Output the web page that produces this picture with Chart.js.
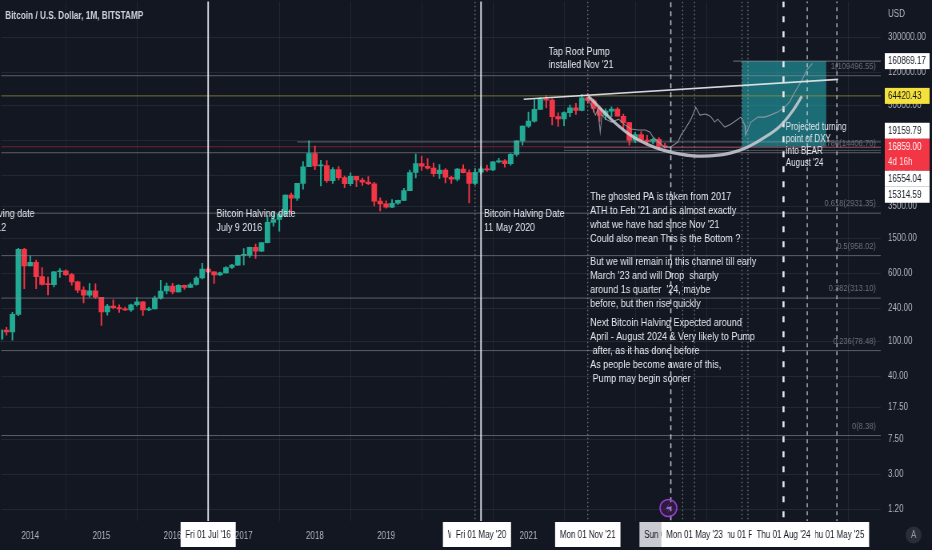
<!DOCTYPE html>
<html><head><meta charset="utf-8">
<script src="https://cdn.jsdelivr.net/npm/chart.js@4"></script>
<style>
html,body{margin:0;padding:0;background:#131722;overflow:hidden;width:932px;height:550px}
#wrap{position:absolute;left:0;top:0;width:1165px;height:550px;transform:scaleX(0.8);transform-origin:0 0}
</style></head><body>
<div id="wrap"><canvas id="c"></canvas></div>
<script>
// ---------- DATA ----------
const firstCandleMonth = -5; // Aug 2013, months counted from Jan 2014
const opens = [
 106,135,128,204,1130,
 732,802,550,450,446,627,640,580,480,386,338,378,
 320,218,254,244,236,230,263,284,230,236,313,377,
 430,368,437,416,448,531,673,624,575,609,700,745,
 965,968,1190,1080,1348,2300,2480,2870,4730,4340,6440,9950,
 14100,10200,10300,6920,9240,7490,6390,7730,7020,6630,6370,4020,
 3740,3440,3810,4100,5320,8560,10820,10080,9600,8290,9150,7560,
 7190,9360,8540,6420,8620,9450,9140,11340,11650,10780,13800,19700,
 28990,33110,45150,58760,57700,37300,35040,41460,47100,43820,61300,56900,
 46200,38470,43160,45520,37640,31790,19940,23300,20050,19430,20490,17170];
const highs = [
 140,145,215,1163,1163,
 950,850,700,545,635,680,660,600,490,420,460,455,
 320,265,300,262,247,268,318,285,245,330,500,465,
 462,448,440,467,550,780,700,630,620,720,760,970,
 1150,1200,1300,1350,2760,3000,2950,4760,4980,6450,11400,19660,
 17200,11800,11700,9750,9990,7770,8490,7750,7400,7690,6600,4380,
 4070,4200,4140,5640,9100,13880,13200,12320,10940,10540,9520,7740,
 9580,10500,9190,9460,10070,10380,11450,12470,12060,14100,19880,29300,
 41950,58350,61780,64900,59600,41300,42300,50500,52900,67000,69000,59100,
 47990,45800,48200,47450,39970,31990,24670,25200,22800,21100,21470,18400];
const lows = [
 98,118,103,197,400,
 730,400,440,340,420,540,565,440,360,275,320,310,
 152,200,235,215,225,220,253,198,225,235,305,350,
 350,365,394,412,440,520,610,460,570,605,680,740,
 750,915,890,1060,1340,2080,1830,2680,2980,4100,5500,9950,
 9200,6000,6600,6430,7050,5750,6070,5880,6100,6200,3550,3120,
 3350,3380,3690,4080,5320,7420,9070,9320,7710,7300,6520,6430,
 6870,8450,3850,6160,8120,8830,8980,10990,9880,10390,13200,17600,
 28130,32300,44950,47000,30000,28800,29300,37330,39600,43300,53250,42000,
 32950,34320,37160,37700,26700,17600,18780,19540,18150,18200,15480,16300];
const closes = [
 135,128,204,1130,732,
 802,550,450,446,627,640,580,480,386,338,378,320,
 218,254,244,236,230,263,284,230,236,313,377,430,
 368,437,416,448,531,673,624,575,609,700,745,965,
 968,1190,1080,1348,2300,2480,2870,4730,4340,6440,9950,14100,
 10200,10300,6920,9240,7490,6390,7730,7020,6630,6370,4020,3740,
 3440,3810,4100,5320,8560,10820,10080,9600,8290,9150,7560,7190,
 9360,8540,6420,8620,9450,9140,11340,11650,10780,13800,19700,28990,
 33110,45150,58760,57700,37300,35040,41460,47100,43820,61300,56900,46200,
 38470,43160,45520,37640,31790,19940,23300,20050,19430,20490,17170,16859];

// ghosted price action (months from Jan 2014, price)
const ghostMonths = [93.8,94.6,95.3,95.7,96.1,96.4,97,98,99.2,100.3,101.3,102.5,103.7,104.5,105,105.9,107,107.9,108.7,109.2,109.7,110.4,110.9,111.4,112.1,112.2,112.9,113.8,114.3,114.8,115.4,115.9,117.1,118.1,119.3,119.8,120.5,120.6,121.5,122.7,123.8,124.8,126,127.2,128,128.9,129.9,130.5,131,131.9];
const ghostPrices = [62200,50400,38800,45400,24800,38800,34900,32300,34900,29800,26900,26200,26200,24800,21800,19100,16700,16700,18100,19100,22900,26900,30600,34900,45400,47900,38800,40000,38800,36800,32300,34900,28300,30600,34900,36800,29800,22900,32300,36800,36800,38800,42000,47900,54600,71000,92100,110600,129700,151700];

// cup arc
const arcMonths = [94.1,96.1,98.3,101.2,104.0,106.7,109.6,112.5,115.1,118.0,120.9,123.6,126.4,128.5,130.1];
const arcPrices = [63700,46480,33050,22880,18060,15430,13890,13180,13350,14260,16690,21150,28990,42970,63700];

// trend line ("Tap Root")
const trendMonths = [83.2, 136.2];
const trendPrices = [58900, 99500];

// fib levels
const fibRatios = ['1','0.786','0.618','0.5','0.382','0.236','0'];
const fibPrices = [109496.55,14406.70,2931.35,958.02,313.10,78.48,8.38];

// horizontal lines
const hLinePrices = [160869.17, 64420.43, 19159.79, 16859.00, 16554.04, 15314.59];
const hLineStartMonths = [118.5, -6, 45, -6, 90, 90];

// vertical lines
const vLineMonths = [30, 75, 76, 94, 108, 110, 112, 120, 121, 127, 131, 136];
const vLineKinds = ['solid','dot','solid','dot','dash','dot','dot','dot','dot','bold','dash2','dash2'];

// projection box
const boxMonths = [120, 134.2];
const boxPrices = [160869.17, 16859];

// axis ticks
const priceTicks = [1.2,3,7.5,17.5,40,100,240,600,1500,3500,8000,20000,50000,120000,300000];
const yearTicks = [2014,2015,2016,2017,2018,2019,2020,2021,2022,2023,2024,2025];

// price tags on axis
const tagPrices = [160869.17, 64420.43, 19159.79, 16859.00, 16554.04, 15314.59];
const tagKinds = ['white','yellow','white','last','white','white'];
const lastCountdown = '4d 16h';

// time tags on axis
const timeTagMonths = [30, 75, 76, 94, 108, 121, 112, 136, 127];
const timeTagTexts = ["Fri 01 Jul '16","Wed 01 Apr '20","Fri 01 May '20","Mon 01 Nov '21","Sun 01 Jan '23","Thu 01 Feb '24","Mon 01 May '23","Thu 01 May '25","Thu 01 Aug '24"];
const timeTagGray = [false,false,false,false,true,false,false,false,false];

// annotation texts
const title = 'Bitcoin / U.S. Dollar, 1M, BITSTAMP';
const tapRootText = ['Tap Root Pump', "installed Nov '21"];
const tapRootAnchor = [87.4, 207700];
const halvingTexts = [['Bitcoin Halving date','Nov 28 2012'],['Bitcoin Halving date','July 9 2016'],['Bitcoin Halving Date','11 May 2020']];
const halvingAnchorMonths = [-12.6, 31.4, 76.5];
const halvingAnchorPrice = 2873;
const mainParagraphs = [
 ['The ghosted PA is taken from 2017',"ATH to Feb '21 and is almost exactly","what we have had since Nov '21",'Could also mean This is the Bottom ?'],
 ['But we will remain in this channel till early',"March '23 and will Drop  sharply","around 1s quarter  '24, maybe",'before, but then rise quickly'],
 ['Next Bitcoin Halving Expected around','April - August 2024 & Very likely to Pump',' after, as it has done before','As people become aware of this,',' Pump may begin sooner']];
const mainAnchor = [94.4, 4491];
const dxyText = ['Projected turning','point of DXY','into BEAR',"August '24"];
const dxyAnchor = [127.4, 28220];
const lightningMonth = 107.6;

// ---------- STYLE / LAYOUT ----------
const F = "'Liberation Sans', Arial, sans-serif";
const xMin = -4.88, xMax = 143.4;
const yMin = 0.882, yMax = 772000;
const UP = '#22ab94', DOWN = '#f23645';
const vStyles = {
  solid:{c:'rgba(236,237,242,0.92)',w:1.9,d:[]},
  dot:{c:'rgba(190,192,200,0.6)',w:1.2,d:[1.5,2.5]},
  dash:{c:'rgba(220,222,228,0.85)',w:1.6,d:[5,4]},
  bold:{c:'rgba(240,241,245,0.95)',w:2.6,d:[6,9]},
  dash2:{c:'rgba(220,222,228,0.8)',w:1.4,d:[4,4]}
};
const hColors = ['rgba(170,173,180,0.6)','rgba(150,145,60,0.75)','rgba(150,152,160,0.6)','rgba(242,54,69,0.4)','rgba(150,152,160,0.45)','rgba(150,152,160,0.45)'];

const candleMonths = opens.map((_, i) => firstCandleMonth + i);
const isUp = opens.map((o, i) => closes[i] >= o);
const candleColors = isUp.map(u => u ? UP : DOWN);

const datasets = [];
datasets.push({type:'bar', label:'wicks', order:10, grouped:false, barThickness:1.3,
  data: candleMonths.map((m,i)=>({x:m, y:[lows[i], highs[i]]})), backgroundColor:candleColors, borderWidth:0});
datasets.push({type:'bar', label:'bodies', order:9, grouped:false, barThickness:6.2, minBarLength:1,
  data: candleMonths.map((m,i)=>({x:m, y:[opens[i], closes[i]]})), backgroundColor:candleColors, borderWidth:0});
fibPrices.forEach((p)=>datasets.push({type:'line', order:8, data:[{x:xMin-1,y:p},{x:xMax+1,y:p}],
  borderColor:'rgba(140,143,152,0.6)', borderWidth:1, pointRadius:0}));
hLinePrices.forEach((p,i)=>datasets.push({type:'line', order:8, data:[{x:hLineStartMonths[i],y:p},{x:xMax+1,y:p}],
  borderColor:hColors[i], borderWidth:1, pointRadius:0}));
vLineMonths.forEach((m,i)=>{const s=vStyles[vLineKinds[i]]; datasets.push({type:'line', order:6, data:[{x:m,y:yMin/2},{x:m,y:yMax*2}],
  borderColor:s.c, borderWidth:s.w, borderDash:s.d, pointRadius:0});});
datasets.push({type:'line', order:5, data:ghostMonths.map((m,i)=>({x:m,y:ghostPrices[i]})),
  borderColor:'rgba(160,164,175,0.8)', borderWidth:1.1, pointRadius:0, tension:0});
datasets.push({type:'line', order:4, data:trendMonths.map((m,i)=>({x:m,y:trendPrices[i]})),
  borderColor:'rgba(235,236,240,0.9)', borderWidth:1.6, pointRadius:0});
datasets.push({type:'line', order:3, data:arcMonths.map((m,i)=>({x:m,y:arcPrices[i]})),
  borderColor:'rgba(205,207,214,0.85)', borderWidth:3.2, pointRadius:0, cubicInterpolationMode:'monotone'});

function drawLines(ctx, lines, x, y, lh, font, color){
  ctx.font = font; ctx.fillStyle = color; ctx.textAlign='left'; ctx.textBaseline='middle';
  lines.forEach((t,i)=>ctx.fillText(t, x, y + i*lh));
}

const deco = {
  id:'deco',
  beforeDatasetsDraw(chart){
    const {ctx, chartArea:a, scales:{x,y}} = chart;
    ctx.save(); ctx.beginPath(); ctx.rect(a.left,a.top,a.right-a.left,a.bottom-a.top); ctx.clip();
    const x0=x.getPixelForValue(boxMonths[0]), x1=x.getPixelForValue(boxMonths[1]);
    const y0=y.getPixelForValue(boxPrices[0]), y1=y.getPixelForValue(boxPrices[1]);
    ctx.fillStyle='rgba(35,165,175,0.6)'; ctx.fillRect(x0,y0,x1-x0,y1-y0);
    ctx.restore();
  },
  afterDraw(chart){
    const {ctx, chartArea:a, scales:{x,y}} = chart;
    ctx.save();
    // fib labels
    ctx.font = `9.5px ${F}`; ctx.textAlign='right'; ctx.textBaseline='middle'; ctx.fillStyle='#6c6f7a';
    fibPrices.forEach((p,i)=>ctx.fillText(`${fibRatios[i]}(${p.toFixed(2)})`, a.right-6, y.getPixelForValue(p)-9.5));
    // title
    ctx.font = `bold 10.3px ${F}`; ctx.textAlign='left'; ctx.fillStyle='#d1d4dc'; ctx.fillText(title, 6.5, 16);
    // annotations
    const tf = `11.3px ${F}`, tc = '#e6e8ee';
    drawLines(ctx, tapRootText, x.getPixelForValue(tapRootAnchor[0]), y.getPixelForValue(tapRootAnchor[1]), 13.5, `11.1px ${F}`, tc);
    halvingAnchorMonths.forEach((m,i)=>drawLines(ctx, halvingTexts[i], x.getPixelForValue(m), y.getPixelForValue(halvingAnchorPrice), 14, `11.2px ${F}`, tc));
    let my = y.getPixelForValue(mainAnchor[1]); const mx = x.getPixelForValue(mainAnchor[0]);
    const gaps=[0,9,5];
    mainParagraphs.forEach((para,pi)=>{ my += gaps[pi]; drawLines(ctx, para, mx, my, 14, tf, tc); my += para.length*14; });
    drawLines(ctx, dxyText, x.getPixelForValue(dxyAnchor[0]), y.getPixelForValue(dxyAnchor[1]), 12, `10px ${F}`, tc);
    // USD
    ctx.font = `10px ${F}`; ctx.fillStyle='#b2b5be'; ctx.textAlign='left'; ctx.fillText('USD', a.right+9, 14);
    // price tags (push apart from the last-price tag)
    const tags = tagPrices.map((p,i)=>({p, kind:tagKinds[i], y:y.getPixelForValue(p)}));
    const h = 16, lastH = 32;
    const fi = tags.findIndex(t=>t.kind==='last');
    tags[fi].cy = tags[fi].y;
    let top = tags[fi].y - h/2;
    for(let i=fi-1;i>=0;i--){ const c=Math.min(tags[i].y, top-h/2); tags[i].cy=c; top=c-h/2; }
    let bot = tags[fi].y - h/2 + lastH;
    for(let i=fi+1;i<tags.length;i++){ const c=Math.max(tags[i].y, bot+h/2); tags[i].cy=c; bot=c+h/2; }
    const tx0 = a.right+5, tw = 56;
    tags.forEach(t=>{
      let bg='#ffffff', fg='#131722';
      if(t.kind==='yellow'){bg='#f5e13c';}
      if(t.kind==='last'){bg=DOWN; fg='#ffffff';}
      const hh = t.kind==='last'?lastH:h;
      ctx.fillStyle=bg; ctx.fillRect(tx0, t.cy-h/2, tw, hh);
      ctx.fillStyle=fg; ctx.font=`10px ${F}`; ctx.textAlign='left'; ctx.textBaseline='middle';
      ctx.fillText(t.p.toFixed(2), tx0+4, t.cy+0.5);
      if(t.kind==='last'){ ctx.fillStyle='rgba(255,255,255,0.85)'; ctx.fillText(lastCountdown, tx0+4, t.cy+15.5); }
    });
    // time tags
    timeTagMonths.forEach((m,i)=>{
      const px = x.getPixelForValue(m); const t = timeTagTexts[i];
      ctx.font=`10px ${F}`; const w = ctx.measureText(t).width + 12;
      ctx.fillStyle = timeTagGray[i] ? '#c9cbd1' : '#ffffff';
      ctx.fillRect(px-w/2, a.bottom+1, w, 25);
      ctx.fillStyle='#131722'; ctx.textAlign='center'; ctx.textBaseline='middle';
      ctx.fillText(t, px, a.bottom+14.5);
    });
    // lightning icon
    const lx = x.getPixelForValue(lightningMonth), ly = a.bottom-13;
    ctx.beginPath(); ctx.ellipse(lx, ly, 10.5, 8.5, 0, 0, Math.PI*2);
    ctx.fillStyle='rgba(120,40,150,0.25)'; ctx.fill();
    ctx.strokeStyle='#9b3fd0'; ctx.lineWidth=1.6; ctx.stroke();
    ctx.beginPath(); ctx.moveTo(lx+2,ly-6); ctx.lineTo(lx-3,ly+1); ctx.lineTo(lx+1,ly+1); ctx.lineTo(lx-2,ly+6); ctx.lineTo(lx+3,ly-1); ctx.lineTo(lx-1,ly-1); ctx.closePath();
    ctx.fillStyle='#b060e0'; ctx.fill();
    // A button
    const ax = a.right+41, ay = a.bottom+14;
    ctx.beginPath(); ctx.ellipse(ax, ay, 10, 8.5, 0, 0, Math.PI*2); ctx.fillStyle='#2a2e39'; ctx.fill();
    ctx.fillStyle='#9598a1'; ctx.font=`10px ${F}`; ctx.textAlign='center'; ctx.textBaseline='middle'; ctx.fillText('A', ax, ay+0.5);
    ctx.restore();
  }
};

new Chart(document.getElementById('c'), {
  type:'bar',
  data:{datasets},
  options:{
    responsive:true, maintainAspectRatio:false, animation:false,
    layout:{padding:0},
    plugins:{legend:{display:false}, tooltip:{enabled:false}},
    scales:{
      x:{type:'linear', min:xMin, max:xMax, bounds:'data', offset:false,
        grid:{color:'rgba(48,52,64,0.55)', drawTicks:false}, border:{display:false},
        ticks:{color:'#b2b5be', font:{size:10, family:F}, padding:9, maxRotation:0, autoSkip:false,
          callback:(v)=>String(2014 + Math.round(v/12))},
        afterBuildTicks:(s)=>{ s.ticks = yearTicks.map(yr=>({value:(yr-2014)*12})); },
        afterFit:(s)=>{ s.height = 29; s.paddingLeft = 0; s.paddingRight = 0; s.paddingTop = 0; s.paddingBottom = 0; }},
      y:{type:'logarithmic', position:'right', min:yMin, max:yMax, bounds:'data',
        grid:{color:'rgba(48,52,64,0.55)', drawTicks:false}, border:{display:false},
        ticks:{color:'#b2b5be', font:{size:10, family:F}, padding:9, autoSkip:false, crossAlign:'near',
          callback:(v)=>Number(v).toFixed(2)},
        afterBuildTicks:(s)=>{ s.ticks = priceTicks.map(v=>({value:v})); },
        afterFit:(s)=>{ s.width = 64; s.paddingTop = 0; s.paddingBottom = 0; s.paddingLeft = 0; s.paddingRight = 0; }}
    }
  },
  plugins:[deco]
});
</script>
</body></html>
